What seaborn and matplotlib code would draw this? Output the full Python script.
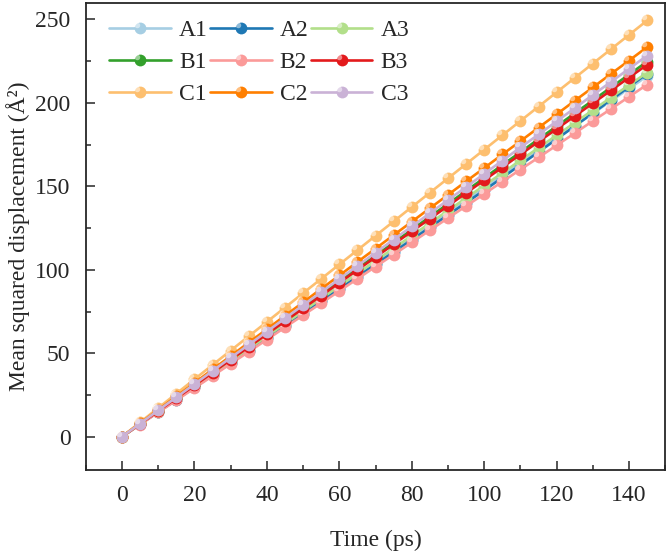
import numpy as np
import pandas as pd
import matplotlib
matplotlib.use("Agg")
import matplotlib.pyplot as plt
from matplotlib.path import Path
from matplotlib.ticker import MultipleLocator
import seaborn as sns

# time axis (ps)
time_ps = [0, 5, 10, 15, 20, 25, 30, 35, 40, 45, 50, 55, 60, 65, 70,
           75, 80, 85, 90, 95, 100, 105, 110, 115, 120, 125, 130, 135, 140, 145]

# mean squared displacement (A^2)
msd_A1 = [0, 7.5, 14.9, 22.4, 29.8, 37.3, 44.7, 52.2, 59.6, 67.1, 74.5, 82.0, 89.4, 96.9, 104.3,
          111.8, 119.2, 126.7, 134.1, 141.6, 149.0, 156.5, 163.9, 171.4, 178.8, 186.3, 193.7, 201.2, 208.6, 216.1]
msd_A2 = [0, 7.4, 14.8, 22.1, 29.5, 36.9, 44.3, 51.6, 59.0, 66.4, 73.8, 81.1, 88.5, 95.9, 103.3,
          110.6, 118.0, 125.4, 132.8, 140.2, 147.6, 155.2, 162.9, 170.6, 178.3, 186.1, 193.9, 201.8, 209.7, 217.6]
msd_A3 = [0, 7.5, 15.1, 22.6, 30.1, 37.6, 45.2, 52.7, 60.2, 67.7, 75.3, 82.8, 90.3, 97.8, 105.4,
          112.9, 120.4, 127.9, 135.5, 143.0, 150.5, 158.0, 165.6, 173.1, 180.6, 188.1, 195.7, 203.2, 210.7, 218.2]
msd_B1 = [0, 7.8, 15.5, 23.3, 31.0, 38.8, 46.5, 54.3, 62.0, 69.8, 77.5, 85.3, 93.0, 100.8, 108.5,
          116.3, 124.0, 131.8, 139.5, 147.3, 155.0, 162.8, 170.5, 178.3, 186.0, 193.8, 201.5, 209.3, 217.0, 224.8]
msd_B2 = [0, 7.3, 14.6, 21.8, 29.1, 36.4, 43.7, 50.9, 58.2, 65.5, 72.8, 80.0, 87.3, 94.6, 101.9,
          109.1, 116.4, 123.7, 131.0, 138.2, 145.5, 152.8, 160.1, 167.3, 174.6, 181.9, 189.2, 196.4, 203.7, 211.0]
msd_B3 = [0, 7.7, 15.4, 23.1, 30.7, 38.4, 46.1, 53.8, 61.5, 69.2, 76.9, 84.5, 92.2, 99.9, 107.6,
          115.3, 123.0, 130.6, 138.3, 146.0, 153.7, 161.4, 169.1, 176.8, 184.4, 192.1, 199.8, 207.5, 215.2, 222.9]
msd_C1 = [0, 8.6, 17.2, 25.8, 34.4, 43.0, 51.6, 60.2, 68.8, 77.4, 86.0, 94.6, 103.2, 111.8, 120.4,
          129.0, 137.6, 146.2, 154.8, 163.4, 172.0, 180.6, 189.2, 197.8, 206.4, 215.0, 223.6, 232.2, 240.8, 249.4]
msd_C2 = [0, 8.1, 16.1, 24.2, 32.2, 40.3, 48.3, 56.4, 64.4, 72.5, 80.5, 88.6, 96.6, 104.7, 112.7,
          120.8, 128.8, 136.9, 144.9, 153.0, 161.0, 169.1, 177.1, 185.2, 193.2, 201.3, 209.3, 217.4, 225.4, 233.5]
msd_C3 = [0, 7.9, 15.8, 23.6, 31.5, 39.4, 47.3, 55.1, 63.0, 70.9, 78.8, 86.6, 94.5, 102.4, 110.3,
          118.1, 126.0, 133.9, 141.8, 149.6, 157.5, 165.4, 173.3, 181.1, 189.0, 196.9, 204.8, 212.6, 220.5, 228.4]

labels = ["A1", "A2", "A3", "B1", "B2", "B3", "C1", "C2", "C3"]
series = [msd_A1, msd_A2, msd_A3, msd_B1, msd_B2, msd_B3, msd_C1, msd_C2, msd_C3]

df = pd.concat(
    [pd.DataFrame({"time": time_ps, "msd": vals, "sample": lab}) for lab, vals in zip(labels, series)],
    ignore_index=True,
)

sns.set_style("ticks")
plt.rcParams["font.family"] = ["Liberation Serif", "DejaVu Serif"]
plt.rcParams["font.size"] = 17

colors = sns.color_palette("Paired", 9)

# small offset disc used as a specular highlight on each marker
theta = np.linspace(0, 2 * np.pi, 40)
hl_path = Path(np.column_stack([-0.22 + 0.2 * np.cos(theta), 0.22 + 0.2 * np.sin(theta)]))

fig = plt.figure(figsize=(6.7, 5.55), dpi=100)
ax = fig.add_axes([0.128, 0.153, 0.865, 0.842])

handles = {}
for lab, col in zip(labels, colors):
    sub = df[df["sample"] == lab]
    sns.lineplot(data=sub, x="time", y="msd", color=col, linewidth=1.9,
                 marker="o", markersize=8.5, markeredgewidth=0, ax=ax, legend=False)
    line = ax.lines[-1]
    hl, = ax.plot(sub["time"], sub["msd"], linestyle="none", marker=hl_path,
                  markersize=8.5, color="white", alpha=0.5, markeredgewidth=0)
    handles[lab] = (line, hl)

ax.set_xlim(-10, 150)
ax.set_ylim(-20, 260)
ax.xaxis.set_major_locator(MultipleLocator(20))
ax.xaxis.set_minor_locator(MultipleLocator(10))
ax.yaxis.set_major_locator(MultipleLocator(50))
ax.yaxis.set_minor_locator(MultipleLocator(25))
ax.tick_params(which="both", direction="in", top=False, right=False, width=1.1)
ax.tick_params(axis="x", which="both", pad=11)
ax.tick_params(axis="y", which="both", pad=11)
ax.tick_params(which="major", length=6.5)
ax.tick_params(which="minor", length=3.5)
for sp in ax.spines.values():
    sp.set_linewidth(1.3)

ax.set_xlabel("Time (ps)", labelpad=17)
ax.set_ylabel("Mean squared displacement (Å²)", labelpad=4)

# column-major legend filled so rows read A, B, C
order = ["A1", "B1", "C1", "A2", "B2", "C2", "A3", "B3", "C3"]
ax.legend([handles[k] for k in order], order, ncol=3, loc="upper left",
          bbox_to_anchor=(0.012, 1.0), frameon=False, handlelength=2.6,
          handletextpad=0.35, columnspacing=0.1, labelspacing=0.45,
          borderaxespad=0.3, fontsize=17)

fig.savefig("out.png", dpi=100)
